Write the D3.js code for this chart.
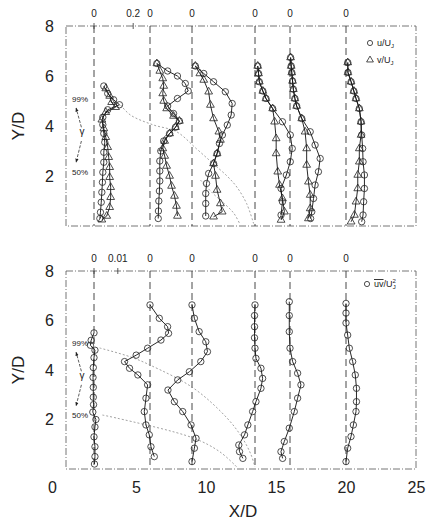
<!DOCTYPE html>
<meta charset="utf-8">
<script src="https://d3js.org/d3.v7.min.js"></script>
<style>
  body { margin: 0; background: #fff; }
  text { font-family: "Liberation Sans", Arial, sans-serif; fill: #222; }
</style>
<div id="chart"></div>
<script>
// stations (X/D) where the profiles are taken
const stations = [2, 6, 9, 13.5, 16, 20];

// top panel: [Y/D, u/Uj] and [Y/D, v/Uj] per station
const uTop = [
  [[5.6,0.05],[5.3,0.07],[5.05,0.10],[4.85,0.13],[4.65,0.07],[4.35,0.045],[4.05,0.045],[3.7,0.05],[3.35,0.055],[2.95,0.05],[2.55,0.05],[2.15,0.045],[1.75,0.043],[1.35,0.04],[0.95,0.037],[0.55,0.033],[0.3,0.03]],
  [[6.5,0.035],[6.2,0.09],[6.0,0.14],[5.7,0.18],[5.4,0.195],[5.1,0.14],[4.8,0.09],[4.5,0.12],[4.2,0.15],[3.95,0.13],[3.7,0.10],[3.4,0.07],[3.0,0.055],[2.6,0.05],[2.2,0.05],[1.8,0.05],[1.4,0.048],[1.0,0.045],[0.6,0.043],[0.3,0.042]],
  [[6.4,0.017],[6.1,0.06],[5.77,0.11],[5.37,0.17],[4.9,0.205],[4.44,0.20],[4.04,0.18],[3.64,0.155],[3.3,0.14],[2.9,0.128],[2.5,0.11],[2.1,0.085],[1.7,0.074],[1.3,0.07],[0.9,0.07],[0.4,0.07]],
  [[6.4,0.014],[6.1,0.018],[5.77,0.022],[5.4,0.04],[5.1,0.056],[4.7,0.09],[4.17,0.14],[3.64,0.18],[3.1,0.19],[2.57,0.18],[2.04,0.16],[1.5,0.133],[0.97,0.14],[0.44,0.133]],
  [[6.74,0.003],[6.4,0.006],[6.14,0.009],[5.8,0.013],[5.47,0.017],[5.1,0.025],[4.8,0.034],[4.3,0.06],[3.77,0.103],[3.24,0.128],[2.7,0.154],[2.17,0.145],[1.64,0.128],[1.1,0.12],[0.57,0.111],[0.3,0.105]],
  [[6.54,0.009],[6.14,0.01],[5.77,0.026],[5.4,0.04],[5.1,0.051],[4.7,0.068],[4.17,0.077],[3.64,0.08],[3.1,0.085],[2.57,0.087],[2.04,0.094],[1.5,0.094],[0.97,0.09],[0.44,0.087],[0.17,0.08]]
];
const vTop = [
  [[5.5,0.06],[5.2,0.08],[4.95,0.09],[4.75,0.11],[4.55,0.06],[4.25,0.04],[3.9,0.05],[3.55,0.06],[3.15,0.07],[2.75,0.075],[2.35,0.08],[1.95,0.08],[1.55,0.085],[1.15,0.085],[0.75,0.08],[0.4,0.065],[0.25,0.04]],
  [[6.5,0.035],[6.2,0.05],[5.9,0.065],[5.6,0.07],[5.3,0.065],[5.0,0.07],[4.7,0.085],[4.4,0.12],[4.2,0.15],[3.95,0.13],[3.7,0.10],[3.4,0.075],[3.1,0.065],[2.8,0.075],[2.4,0.085],[2.0,0.10],[1.6,0.11],[1.2,0.125],[0.8,0.135],[0.4,0.14]],
  [[6.4,0.017],[6.1,0.04],[5.84,0.06],[5.37,0.085],[4.84,0.094],[4.3,0.11],[3.77,0.137],[3.44,0.145],[2.9,0.128],[2.5,0.11],[2.0,0.12],[1.44,0.128],[0.9,0.145],[0.57,0.154],[0.37,0.11]],
  [[6.4,0.014],[6.1,0.018],[5.77,0.022],[5.4,0.04],[5.1,0.056],[4.7,0.09],[4.17,0.10],[3.5,0.108],[2.9,0.108],[2.17,0.116],[1.64,0.125],[1.1,0.14],[0.57,0.15],[0.24,0.133]],
  [[6.74,0.003],[6.4,0.006],[6.14,0.009],[5.8,0.013],[5.47,0.017],[5.1,0.025],[4.8,0.034],[4.3,0.06],[3.77,0.077],[3.1,0.085],[2.44,0.085],[1.77,0.094],[1.24,0.103],[0.7,0.103],[0.3,0.094]],
  [[6.54,0.009],[6.14,0.01],[5.77,0.026],[5.4,0.04],[5.1,0.051],[4.7,0.068],[4.17,0.077],[3.64,0.077],[3.1,0.068],[2.57,0.068],[2.04,0.06],[1.5,0.06],[0.97,0.051],[0.44,0.043],[0.17,0.026]]
];

// bottom panel: [Y/D, uv/Uj^2] per station
const uvBot = [
  [[5.5,0.0],[5.2,-0.0012],[5.0,-0.0015],[4.8,0.0004],[4.5,0.0],[4.1,-0.0003],[3.7,-0.0004],[3.3,-0.0003],[2.9,-0.0003],[2.6,-0.0002],[2.3,-0.0005],[2.0,0.0008],[1.7,0.0004],[1.3,0.0],[0.9,0.0004],[0.5,0.0004],[0.2,0.0002]],
  [[6.63,0.0],[6.09,0.0039],[5.75,0.0074],[5.48,0.0078],[5.21,0.0046],[4.88,-0.001],[4.6,-0.0058],[4.34,-0.0107],[4.07,-0.0086],[3.8,-0.0051],[3.4,-0.001],[2.86,-0.0017],[2.32,-0.0024],[1.78,-0.0017],[1.38,-0.0003],[0.9,0.0004],[0.5,0.0018]],
  [[6.63,0.0],[6.09,0.001],[5.55,0.003],[5.14,0.0058],[4.74,0.0065],[4.34,0.0037],[3.93,-0.0011],[3.6,-0.006],[3.19,-0.0101],[2.72,-0.0074],[2.32,-0.0039],[1.78,-0.0004],[1.24,0.0017],[0.84,0.001],[0.3,0.0]],
  [[6.63,0.0],[6.2,-0.0002],[5.75,-0.0002],[5.3,-0.0002],[4.88,0.0],[4.47,0.0004],[4.07,0.0025],[3.66,0.0032],[3.26,0.0025],[2.72,0.0004],[2.32,-0.001],[1.78,-0.003],[1.38,-0.0044],[0.97,-0.0068],[0.7,-0.0065],[0.43,-0.0051]],
  [[6.76,-0.0003],[6.2,-0.0003],[5.55,-0.0003],[4.88,0.0],[4.34,0.0011],[3.87,0.0032],[3.4,0.0046],[2.86,0.0032],[2.32,0.0018],[1.65,-0.0003],[1.11,-0.0024],[0.7,-0.0038],[0.43,-0.0031]],
  [[6.69,0.0],[6.3,0.0],[5.9,0.0],[5.41,0.0007],[4.88,0.0014],[4.34,0.0028],[3.8,0.0039],[3.26,0.0044],[2.72,0.0044],[2.32,0.0042],[1.78,0.0031],[1.31,0.0021],[0.84,0.0007],[0.3,0.0]]
];

// intermittency envelopes [X/D, Y/D]
const env99Top = [[3.9,4.84],[4.6,4.44],[6.2,4.05],[7.9,3.77],[9.3,3.1],[10.5,2.5],[11.5,2.0],[12.2,1.56],[12.9,0.9],[13.4,0.1]];
const env50Top = [[9.6,1.84],[10.5,1.3],[11.4,0.85],[12.0,0.5],[12.4,0.1]];
const env99Bot = [[2.4,4.89],[4.6,4.53],[6.0,4.2],[9.1,3.27],[11.5,2.06],[12.6,1.25],[13.2,0.6],[13.5,0.08]];
const env50Bot = [[2.6,2.18],[3.6,2.06],[9.1,1.25],[11.0,0.69],[12.2,0.08]];

const xTicks = [0, 5, 10, 15, 20, 25];
const yTicks = [2, 4, 6, 8];

const W = 426, H = 521;
const svg = d3.select("#chart").append("svg")
  .attr("width", W).attr("height", H);

const x = d3.scaleLinear().domain([0, 25]).range([66, 416]);
const yTop = d3.scaleLinear().domain([0, 8]).range([226, 26]);
const yBot = d3.scaleLinear().domain([0, 8]).range([469, 271]);

// profile value -> X/D offset (0.2 in top panel = 2.8 X/D, 0.01 in bottom = 1.7 X/D)
const kTop = 2.8 / 0.2, kBot = 1.7 / 0.01;

function panel(y, top) {
  const g = svg.append("g");
  // frame
  g.append("rect")
    .attr("x", x(0)).attr("y", y(8))
    .attr("width", x(25) - x(0)).attr("height", y(0) - y(8))
    .attr("fill", "none").attr("stroke", "#666").attr("stroke-width", 0.9)
    .attr("stroke-dasharray", "7,2,1,2");
  // zero lines
  g.selectAll(".zero").data(stations).join("line")
    .attr("x1", d => x(d)).attr("x2", d => x(d))
    .attr("y1", y(8)).attr("y2", y(0))
    .attr("stroke", "#333").attr("stroke-width", 0.9)
    .attr("stroke-dasharray", "7,4");
  // zero labels
  g.selectAll(".zl").data(stations).join("text")
    .attr("x", d => x(d)).attr("y", y(8) - 9)
    .attr("text-anchor", "middle").attr("font-size", 10).text("0");
  const ref = top ? 0.2 : 0.01, k = top ? kTop : kBot;
  g.append("text").attr("x", x(2 + ref * k)).attr("y", y(8) - 9)
    .attr("text-anchor", "middle").attr("font-size", 10).text(top ? "0.2" : "0.01");
  g.selectAll(".tk").data([2, 2 + ref * k]).join("line")
    .attr("x1", d => x(d)).attr("x2", d => x(d))
    .attr("y1", y(8) - 3).attr("y2", y(8) + 3)
    .attr("stroke", "#333").attr("stroke-width", 0.8);
  // y axis
  g.append("g").attr("transform", `translate(${x(0)},0)`)
    .call(d3.axisLeft(y).tickValues(yTicks).tickSize(0).tickPadding(12))
    .call(a => a.select(".domain").remove())
    .call(a => a.selectAll("text").attr("font-size", 16).attr("fill", "#222")
      .attr("font-family", "Liberation Sans, Arial, sans-serif"));
  g.append("text")
    .attr("transform", `translate(24,${(y(0) + y(8)) / 2}) rotate(-90)`)
    .attr("text-anchor", "middle").attr("font-size", 17).text("Y/D");
  return g;
}

const gTop = panel(yTop, true);
const gBot = panel(yBot, false);

// envelopes
function env(g, y, data) {
  g.append("path").datum(data)
    .attr("d", d3.line().x(d => x(d[0])).y(d => y(d[1])).curve(d3.curveCatmullRom))
    .attr("fill", "none").attr("stroke", "#8a8a8a").attr("stroke-width", 0.8)
    .attr("stroke-dasharray", "2,2");
}
env(gTop, yTop, env99Top);
env(gTop, yTop, env50Top);
env(gBot, yBot, env99Bot);
env(gBot, yBot, env50Bot);

const tri = d3.symbol(d3.symbolTriangle, 26);

function profiles(g, y, sets, k, shape) {
  sets.forEach((pts, i) => {
    const s = stations[i];
    const px = d => x(s + d[1] * k), py = d => y(d[0]);
    g.append("path").datum(pts)
      .attr("d", d3.line().x(px).y(py))
      .attr("fill", "none").attr("stroke", "#111").attr("stroke-width", 0.9);
    if (shape === "circle") {
      g.selectAll(null).data(pts).join("circle")
        .attr("cx", px).attr("cy", py).attr("r", 3.2)
        .attr("fill", "none").attr("stroke", "#222").attr("stroke-width", 0.8);
    } else {
      g.selectAll(null).data(pts).join("path")
        .attr("d", tri).attr("transform", d => `translate(${px(d)},${py(d)})`)
        .attr("fill", "none").attr("stroke", "#222").attr("stroke-width", 0.8);
    }
  });
}
profiles(gTop, yTop, uTop, kTop, "circle");
profiles(gTop, yTop, vTop, kTop, "tri");
profiles(gBot, yBot, uvBot, kBot, "circle");

// gamma annotations
function gamma(g, y) {
  g.append("text").attr("x", x(1.0)).attr("y", y(4.95)).attr("text-anchor", "middle")
    .attr("font-size", 8).text("99%");
  g.append("text").attr("x", x(1.0)).attr("y", y(2.05)).attr("text-anchor", "middle")
    .attr("font-size", 8).text("50%");
  g.append("text").attr("x", x(1.15)).attr("y", y(3.65)).attr("text-anchor", "middle")
    .attr("font-size", 10).style("fill", "#222").attr("font-family", "DejaVu Serif, serif")
    .text("γ");
  [[1.1, 3.95, 0.72, 4.72], [1.1, 3.4, 0.72, 2.55]].forEach(a => {
    g.append("line").attr("x1", x(a[0])).attr("y1", y(a[1]))
      .attr("x2", x(a[2])).attr("y2", y(a[3]))
      .attr("stroke", "#333").attr("stroke-width", 0.8).attr("stroke-dasharray", "3,1.5")
      .attr("marker-end", "url(#arr)");
  });
}
svg.append("defs").append("marker").attr("id", "arr")
  .attr("viewBox", "0 0 10 10").attr("refX", 9).attr("refY", 5)
  .attr("markerWidth", 5).attr("markerHeight", 5).attr("orient", "auto")
  .append("path").attr("d", "M0,1 L10,5 L0,9 Z").attr("fill", "#222");
gamma(gTop, yTop);
gamma(gBot, yBot);

// legends
gTop.append("circle").attr("cx", 370).attr("cy", 43).attr("r", 2.6)
  .attr("fill", "none").attr("stroke", "#222").attr("stroke-width", 0.8);
gTop.append("path").attr("d", d3.symbol(d3.symbolTriangle, 20))
  .attr("transform", "translate(370,60)")
  .attr("fill", "none").attr("stroke", "#222").attr("stroke-width", 0.8);
const lt1 = gTop.append("text").attr("x", 377).attr("y", 46).attr("font-size", 9);
lt1.append("tspan").text("u/U");
lt1.append("tspan").attr("font-size", 6).attr("dy", 2).text("J");
const lt2 = gTop.append("text").attr("x", 377).attr("y", 63).attr("font-size", 9);
lt2.append("tspan").text("v/U");
lt2.append("tspan").attr("font-size", 6).attr("dy", 2).text("J");

gBot.append("circle").attr("cx", 367).attr("cy", 284).attr("r", 2.6)
  .attr("fill", "none").attr("stroke", "#222").attr("stroke-width", 0.8);
const lt3 = gBot.append("text").attr("x", 374).attr("y", 287).attr("font-size", 9);
lt3.append("tspan").style("text-decoration", "overline").text("uv");
lt3.append("tspan").text("/U");
lt3.append("tspan").attr("font-size", 6).attr("dy", -4).text("2");
lt3.append("tspan").attr("font-size", 6).attr("dx", -3).attr("dy", 6).text("J");

// x axis
svg.append("g").attr("transform", `translate(0,${yBot(0)})`)
  .call(d3.axisBottom(x).tickValues(xTicks).tickSize(0).tickPadding(13))
  .call(a => a.select(".domain").remove())
  .call(a => a.selectAll("text").attr("font-size", 16).attr("fill", "#222")
    .attr("font-family", "Liberation Sans, Arial, sans-serif")
    .attr("dx", d => d === 0 ? -14 : 0));
svg.append("text").attr("x", 243).attr("y", 517).attr("text-anchor", "middle")
  .attr("font-size", 17).text("X/D");
</script>
